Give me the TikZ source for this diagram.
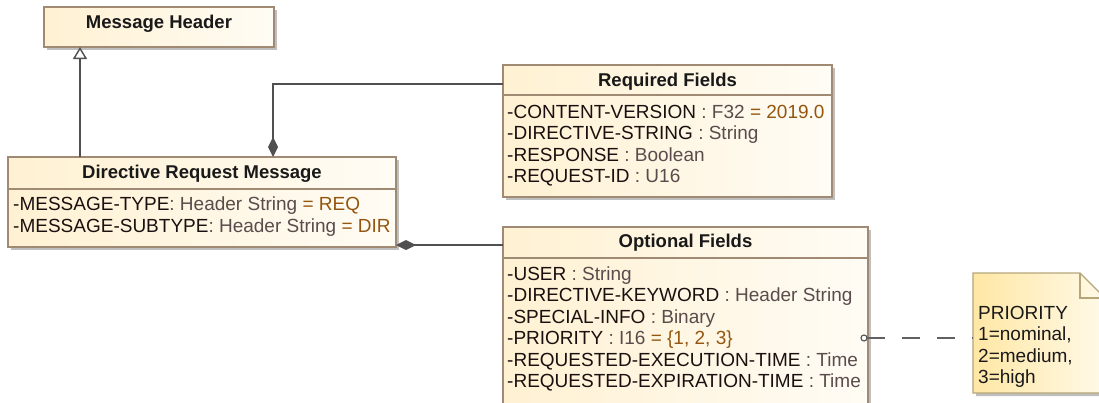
\documentclass[tikz,border=0pt]{standalone}
\usepackage{fontspec}
\setmainfont{Liberation Sans}
\usetikzlibrary{shadows,arrows.meta}
\definecolor{clsA}{HTML}{FFF1D2}
\definecolor{clsB}{HTML}{FFFCF5}
\definecolor{clsborder}{HTML}{A08A74}
\definecolor{noteA}{HTML}{FFE7A4}
\definecolor{noteB}{HTML}{FFF9E8}
\definecolor{noteborder}{HTML}{B5A67A}
\definecolor{attrname}{HTML}{1A1010}
\definecolor{attrtype}{HTML}{5A4C4C}
\definecolor{attrval}{HTML}{94560F}
\definecolor{wire}{HTML}{505050}
\newcommand\attrline[3]{\textcolor{attrname}{#1}\textcolor{attrtype}{\relax#2}\textcolor{attrval}{\relax#3}}
\begin{document}
\begin{tikzpicture}[x=1pt,y=-1pt,
  classbox/.style={draw=clsborder, line width=1.3pt, left color=clsA, right color=clsB,
    anchor=north west, inner sep=0pt, outer sep=0pt,
    drop shadow={shadow xshift=3pt, shadow yshift=-3pt, fill=black!25, opacity=1}},
  sepline/.style={draw=clsborder, line width=1.3pt},
  ttl/.style={font=\fontsize{18.5}{22}\selectfont\bfseries, anchor=base, inner sep=0pt, text=black!90},
  attr/.style={font=\fontsize{19}{22}\selectfont, anchor=base west, inner sep=0pt},
  notetext/.style={font=\fontsize{19}{22}\selectfont, anchor=base west, inner sep=0pt, text=black!90},
  notebox/.style={draw=noteborder, line width=1.2pt, left color=noteA, right color=noteB,
    drop shadow={shadow xshift=3pt, shadow yshift=-3pt, fill=black!25, opacity=1}},
  gen/.style={draw=wire, line width=1.4pt, -{Triangle[open, length=12pt, width=14pt, fill=white]}},
  comp/.style={draw=wire, line width=1.4pt, -{Diamond[length=20pt, width=10pt]}},
  anchorline/.style={draw=wire!90, line width=1.3pt, dash pattern=on 18pt off 17pt}
]
\useasboundingbox (0,0) rectangle (1099,402);
\clip (0,0) rectangle (1099,402);

% Message Header
\node[classbox, minimum width=230pt, minimum height=40pt] (mh) at (44,7) {};
\node[ttl] (mhT) at (159,28) {Message Header};

% Directive Request Message
\node[classbox, minimum width=388pt, minimum height=90pt] (drm) at (8,157) {};
\draw[sepline] (drm.west |- 0,189) -- (drm.east |- 0,189);
\node[ttl] (drmT) at (202,178) {Directive Request Message};
\node[attr] (drm1) at (13,210) {\attrline{-MESSAGE-TYPE}{: Header String }{= REQ}};
\node[attr] (drm2) at (13,232) {\attrline{-MESSAGE-SUBTYPE}{: Header String }{= DIR}};

% Required Fields
\node[classbox, minimum width=329pt, minimum height=132pt] (req) at (503,65) {};
\draw[sepline] (req.west |- 0,95) -- (req.east |- 0,95);
\node[ttl] (reqT) at (667.5,86) {Required Fields};
\node[attr] (req1) at (507,118) {\attrline{-CONTENT-VERSION}{ : F32 }{= 2019.0}};
\node[attr] (req2) at (507,139.5) {\attrline{-DIRECTIVE-STRING}{ : String}{}};
\node[attr] (req3) at (507,161) {\attrline{-RESPONSE}{ : Boolean}{}};
\node[attr] (req4) at (507,182) {\attrline{-REQUEST-ID}{ : U16}{}};

% Optional Fields
\node[classbox, minimum width=365pt, minimum height=185pt] (opt) at (503,227) {};
\draw[sepline] (opt.west |- 0,258) -- (opt.east |- 0,258);
\node[ttl] (optT) at (685.5,247) {Optional Fields};
\node[attr] (opt1) at (507,280) {\attrline{-USER}{ : String}{}};
\node[attr] (opt2) at (507,301.5) {\attrline{-DIRECTIVE-KEYWORD}{ : Header String}{}};
\node[attr] (opt3) at (507,323) {\attrline{-SPECIAL-INFO}{ : Binary}{}};
\node[attr] (opt4) at (507,344.5) {\attrline{-PRIORITY}{ : I16 }{= \{1, 2, 3\}}};
\node[attr] (opt5) at (507,366) {\attrline{-REQUESTED-EXECUTION-TIME}{ : Time}{}};
\node[attr] (opt6) at (507,387.5) {\attrline{-REQUESTED-EXPIRATION-TIME}{ : Time}{}};

% Note
\node[anchor=north west, inner sep=0pt, outer sep=0pt, minimum width=132pt, minimum height=120pt] (note) at (973,273) {};
\path[notebox] (note.north west) -- ([xshift=-25pt]note.north east) -- ([yshift=-25pt]note.north east)
  -- (note.south east) -- (note.south west) -- cycle;
\draw[draw=noteborder, line width=1.2pt] ([xshift=-25pt]note.north east) -- ([xshift=-25pt,yshift=-25pt]note.north east) -- ([yshift=-25pt]note.north east);
\node[notetext] (n1) at (978,319) {PRIORITY};
\node[notetext] (n2) at (978,340.5) {1=nominal,};
\node[notetext] (n3) at (978,362) {2=medium,};
\node[notetext] (n4) at (978,383.5) {3=high};

% Connectors
\coordinate (gx) at (80,0);
\draw[gen] (gx |- drm.north) -- (gx |- mh.south);

\coordinate (c1) at (273,84);
\draw[comp] (req.west |- c1) -- (c1) -- (c1 |- drm.north);

\coordinate (c2) at (0,245);
\draw[comp] (opt.west |- c2) -- (drm.east |- c2);

\coordinate (c3) at (864,338);
\draw[draw=wire, line width=1.1pt, fill=white] (c3) circle[radius=3pt];
\draw[anchorline] ([xshift=3pt]c3) -- (note.west |- c3);
\end{tikzpicture}
\end{document}
